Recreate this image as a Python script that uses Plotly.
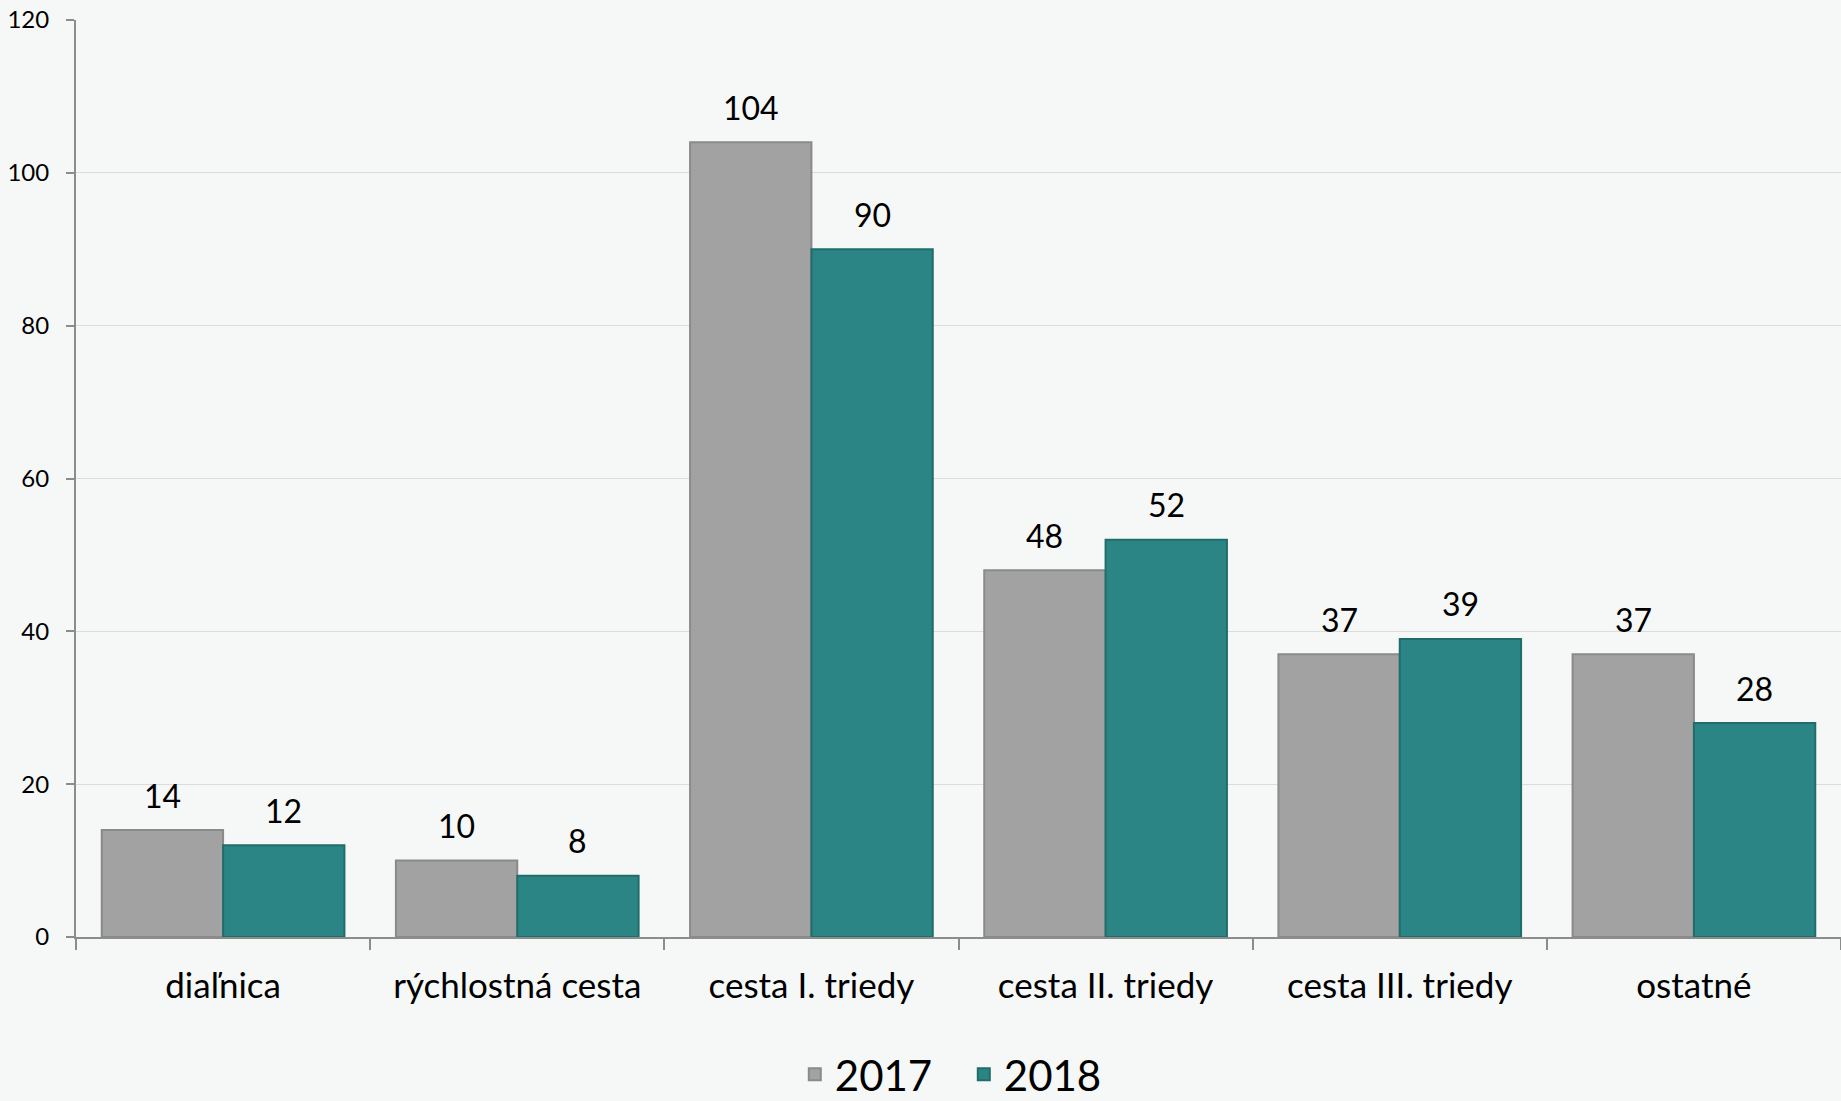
import plotly.graph_objects as go

categories = ["diaľnica", "rýchlostná cesta", "cesta I. triedy", "cesta II. triedy", "cesta III. triedy", "ostatné"]
values_2017 = [14, 10, 104, 48, 37, 37]
values_2018 = [12, 8, 90, 52, 39, 28]
series_names = ["2017", "2018"]
y_ticks = [0, 20, 40, 60, 80, 100, 120]

GRAY = "#A2A2A2"
TEAL = "#2A8584"
FONT = "Lato, 'Open Sans', sans-serif"
BARGAP = 0.175

fig = go.Figure()
fig.add_trace(go.Bar(
    name=series_names[0], x=categories, y=values_2017,
    marker=dict(color=GRAY, line=dict(color="#8A8A8A", width=2)),
))
fig.add_trace(go.Bar(
    name=series_names[1], x=categories, y=values_2018,
    marker=dict(color=TEAL, line=dict(color="#206D6B", width=2)),
))

# value labels above bars (positioned on the category axis scale)
half = (1 - BARGAP) / 4
for series, offset in ((values_2017, -half), (values_2018, half)):
    for i, v in enumerate(series):
        fig.add_annotation(
            x=i + offset, y=v, xref="x", yref="y",
            text=str(v), showarrow=False, yanchor="middle", yshift=35,
            font=dict(size=32, family=FONT, color="#000000"),
        )

fig.update_layout(
    width=1841, height=1101,
    margin=dict(l=76, r=0, t=20, b=164, autoexpand=False),
    paper_bgcolor="#F6F7F7",
    plot_bgcolor="#F6F7F7",
    barmode="group",
    bargap=BARGAP,
    bargroupgap=0,
    font=dict(family=FONT, color="#000000"),
    showlegend=True,
    legend=dict(
        orientation="h", x=0.503, xanchor="center", y=-0.150, yanchor="middle",
        font=dict(size=42, family=FONT, color="#000000"),
        itemwidth=30, traceorder="normal", entrywidth=124,
        bgcolor="rgba(0,0,0,0)",
    ),
)
fig.update_xaxes(
    showline=True, linecolor="#8C8C8C", linewidth=2,
    ticks="outside", tickson="boundaries", ticklen=11, tickcolor="#8C8C8C", tickwidth=2,
    tickfont=dict(size=35, family=FONT, color="#000000"),
    ticklabelstandoff=17,
    showgrid=False,
)
fig.update_yaxes(
    range=[0, 120], tickvals=y_ticks,
    showline=True, linecolor="#8C8C8C", linewidth=2,
    ticks="outside", ticklen=8, tickcolor="#8C8C8C", tickwidth=2,
    tickfont=dict(size=24, family=FONT, color="#000000"),
    ticklabelstandoff=12,
    showgrid=True, gridcolor="#DCDCDC", gridwidth=1,
    zeroline=False,
)

fig.write_html(
    "out.html",
    config={"displayModeBar": False},
    post_script="document.body.style.margin='0';document.body.style.overflow='hidden';",
)
